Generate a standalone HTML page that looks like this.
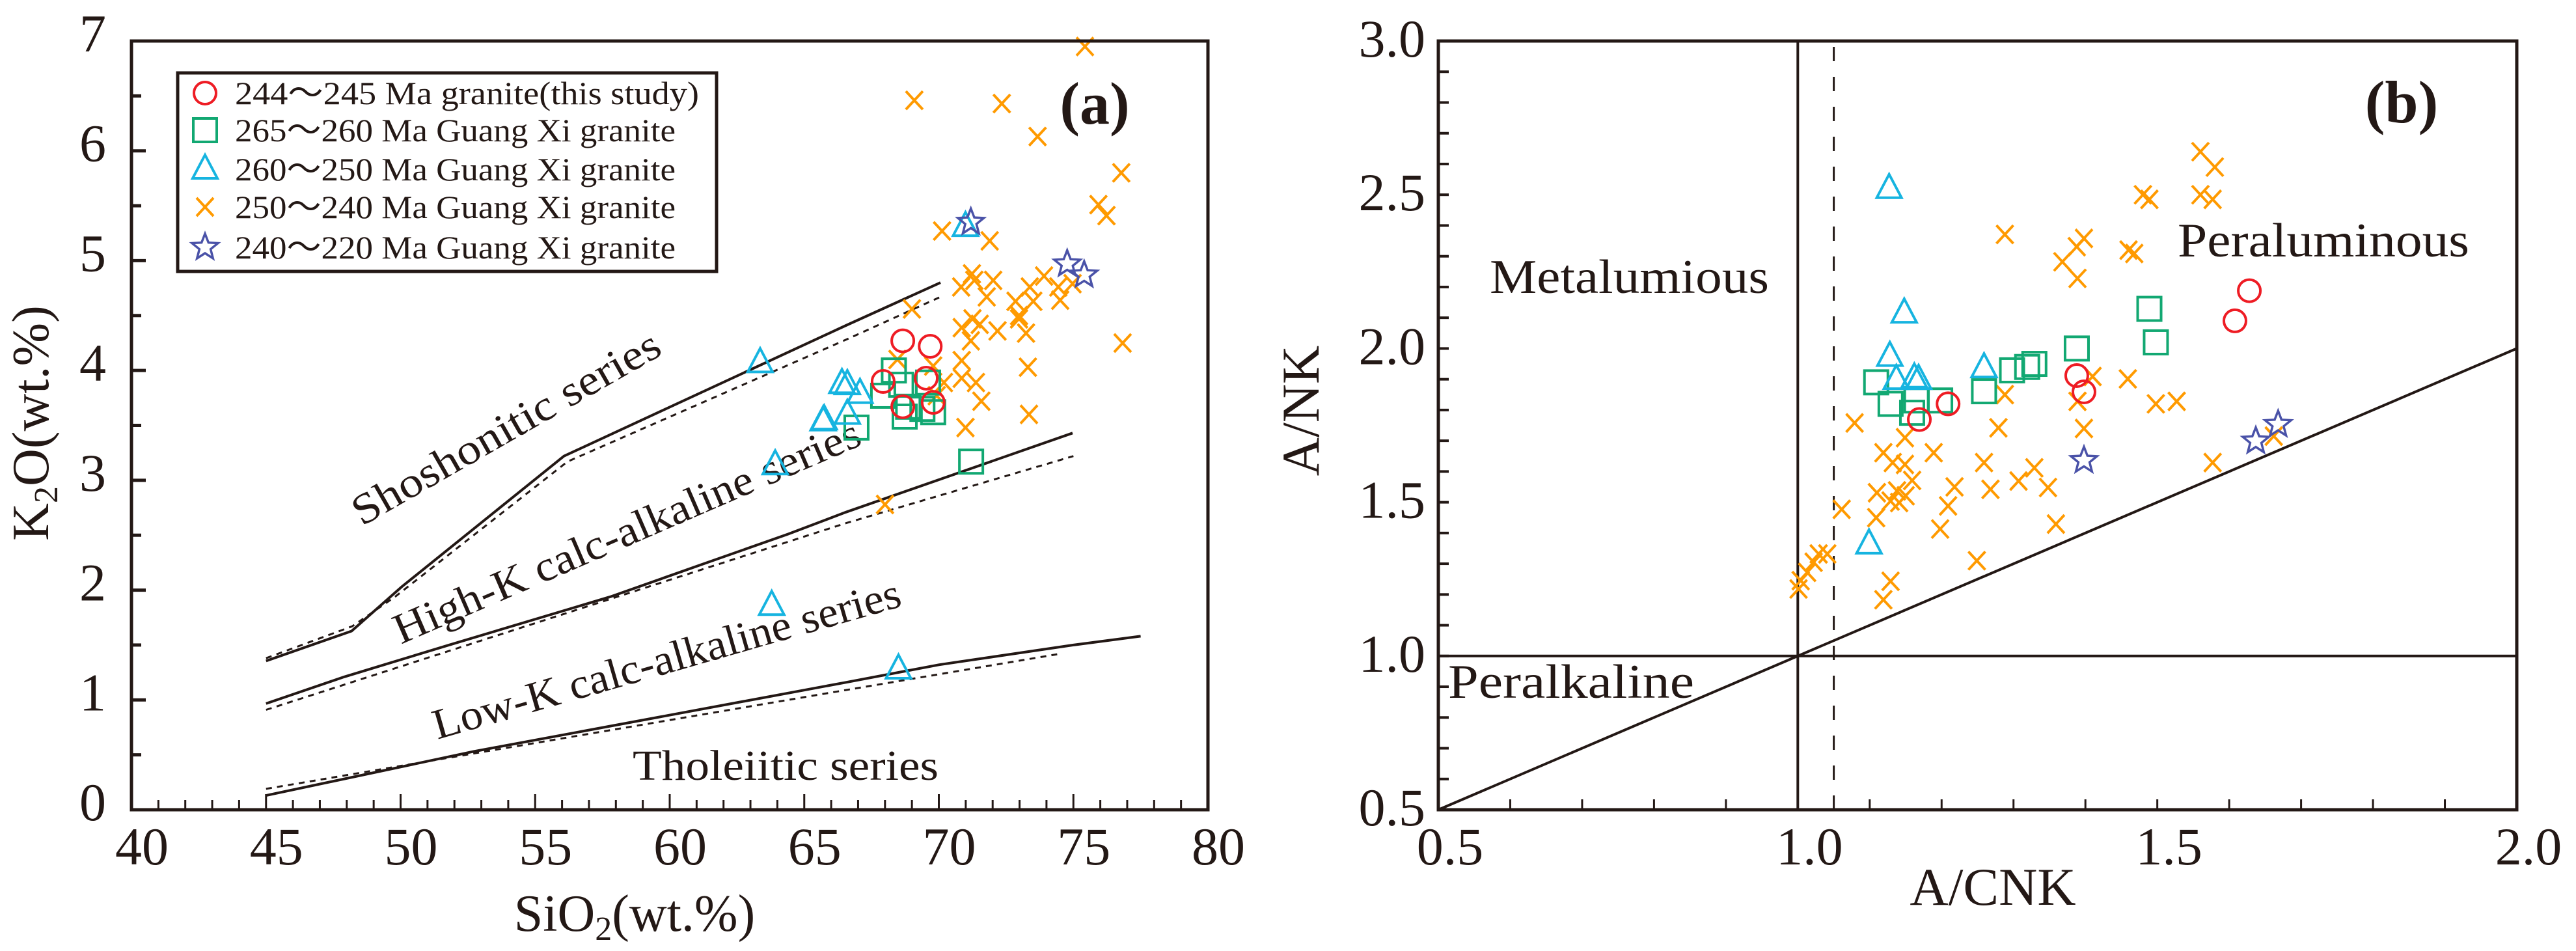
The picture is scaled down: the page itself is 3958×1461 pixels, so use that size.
<!DOCTYPE html>
<html><head><meta charset="utf-8"><style>
html,body{margin:0;padding:0;background:#fff;}
svg{display:block;font-family:"Liberation Serif",serif;}
</style></head><body>
<svg id="fig" width="3958" height="1461" viewBox="0 0 3958 1461" xmlns="http://www.w3.org/2000/svg">
<rect width="3958" height="1461" fill="#fff"/>
<g id="pa"></g>
<g id="pb"></g>
</svg>
<script>
// ---------- Panel (a) data ----------
const aRedX=[68.66,69.68,67.93,69.53,68.66,69.79];
const aRedY=[4.27,4.22,3.90,3.93,3.67,3.71];
const aGreenX=[68.33,67.93,68.6,68.86,68.73,69.39,69.79,66.94,71.2,69.6];
const aGreenY=[4.00,3.77,3.87,3.67,3.58,3.65,3.62,3.48,3.17,3.89];
const aCyanX=[63.36,66.6,67.07,65.74,66.6,70.99,63.92,63.79,68.5,65.7,66.4];
const aCyanY=[4.07,3.87,3.79,3.55,3.60,5.31,3.14,1.86,1.28,3.54,3.88];
const aOrangeX=[75.43,69.09,72.34,73.67,76.78,75.93,76.23,70.12,71.89,71.23,72.02,70.83,71.32,71.78,72.85,73.38,73.91,74.44,74.97,73.51,74.51,72.98,69.0,71.25,70.85,71.52,72.18,73.24,72.98,71.19,76.83,68.46,70.85,69.79,73.31,70.85,71.38,70.19,69.92,71.58,73.35,70.99,68.0];
const aOrangeY=[6.95,6.46,6.43,6.13,5.80,5.51,5.41,5.27,5.18,4.88,4.82,4.76,4.82,4.67,4.63,4.76,4.86,4.76,4.79,4.63,4.64,4.50,4.56,4.47,4.39,4.42,4.36,4.34,4.47,4.27,4.25,4.10,4.09,4.04,4.03,3.93,3.89,3.89,3.77,3.72,3.60,3.48,2.78];
const aStarX=[71.19,74.77,75.40];
const aStarY=[5.35,4.97,4.87];
// boundary lines
const shoSX=[45,48.18,50.04,56.07,66.55,70.06], shoSY=[1.355,1.627,2.03,3.22,4.41,4.80];
const shoDX=[45,48.2,49.8,56.2,66.55,70.06], shoDY=[1.38,1.67,1.94,3.17,4.28,4.67];
const hkSX=[45,47.9,51.8,57.8,61.15,64.4,66.55,74.97], hkSY=[0.967,1.21,1.50,1.94,2.23,2.51,2.71,3.43];
const hkDX=[45,66.55,75], hkDY=[0.91,2.61,3.22];
const lkSX=[45,52.7,66.55,70,75,77.5], lkSY=[0.13,0.53,1.16,1.32,1.5,1.58];
const lkDX=[45,66.55,74.5], lkDY=[0.19,1.09,1.42];
const aXTicks=[40,45,50,55,60,65,70,75,80];
const aYTicks=[0,1,2,3,4,5,6,7];

// ---------- Panel (b) data ----------
const bRedX=[1.628,1.608,1.388,1.398,1.209,1.169];
const bRedY=[2.188,2.090,1.912,1.859,1.820,1.769];
const bGreenX=[1.489,1.498,1.388,1.109,1.298,1.319,1.329,1.259,1.129,1.165,1.198,1.159];
const bGreenY=[2.129,2.020,2.000,1.890,1.929,1.940,1.950,1.861,1.820,1.831,1.831,1.791];
const bCyanX=[1.127,1.148,1.128,1.137,1.162,1.168,1.259,1.099];
const bCyanY=[2.52,2.115,1.974,1.899,1.904,1.899,1.937,1.364];
const bOrangeX=[1.56,1.58,1.56,1.48,1.46,1.489,1.577,1.288,1.398,1.388,1.468,1.368,1.389,1.410,1.459,1.288,1.389,1.498,1.527,1.079,1.279,1.398,1.149,1.119,1.189,1.132,1.149,1.259,1.329,1.159,1.307,1.218,1.348,1.268,1.110,1.138,1.150,1.129,1.141,1.209,1.061,1.109,1.198,1.359,1.249,1.129,1.119,1.577,1.662,1.041,1.029,1.022,1.013,1.004,1.001];
const bOrangeY=[2.64,2.59,2.50,2.50,2.32,2.485,2.485,2.371,2.358,2.331,2.309,2.282,2.228,1.909,1.901,1.850,1.828,1.820,1.828,1.758,1.742,1.740,1.710,1.661,1.661,1.629,1.623,1.629,1.612,1.571,1.569,1.550,1.548,1.542,1.531,1.537,1.521,1.504,1.499,1.488,1.477,1.450,1.413,1.429,1.310,1.243,1.183,1.629,1.715,1.332,1.332,1.305,1.272,1.245,1.218];
const bStarX=[1.398,1.637,1.668];
const bStarY=[1.636,1.699,1.753];
const bXTicks=[0.5,1.0,1.5,2.0];
const bYTicks=[0.5,1.0,1.5,2.0,2.5,3.0];

const NS="http://www.w3.org/2000/svg";
function mk(parent,tag,attrs){const e=document.createElementNS(NS,tag);for(const k in attrs)e.setAttribute(k,attrs[k]);parent.appendChild(e);return e;}
const COL={red:"#ee1c24",green:"#12a872",cyan:"#16b4e0",orange:"#ff9a00",star:"#4a52a8"};

// axis funcs
const axA={x:v=>202+(v-40)*(1856-202)/40, y:v=>1244-v*(1244-63)/7};
const axB={x:v=>2210+(v-0.5)*(3867-2210)/1.5, y:v=>1244-(v-0.5)*(1244-63)/2.5};

function marker(g,type,cx,cy){
  let e;
  if(type==="circle"){e=mk(g,"circle",{cx:cx,cy:cy,r:17,fill:"none",stroke:COL.red,"stroke-width":4});}
  else if(type==="square"){e=mk(g,"rect",{x:cx-18,y:cy-18,width:36,height:36,fill:"none",stroke:COL.green,"stroke-width":4});}
  else if(type==="triangle"){e=mk(g,"polygon",{points:`${cx},${cy-22} ${cx-19},${cy+14} ${cx+19},${cy+14}`,fill:"none",stroke:COL.cyan,"stroke-width":4});}
  else if(type==="x"){e=mk(g,"path",{d:`M${cx-13},${cy-14}L${cx+13},${cy+14}M${cx+13},${cy-14}L${cx-13},${cy+14}`,stroke:COL.orange,"stroke-width":4,fill:"none"});}
  else {let p=[];for(let i=0;i<10;i++){const r=i%2?9:21;const a=-Math.PI/2+i*Math.PI/5;p.push((cx+r*Math.cos(a)).toFixed(1)+","+(cy+r*Math.sin(a)).toFixed(1));}
    e=mk(g,"polygon",{points:p.join(" "),fill:"none",stroke:COL.star,"stroke-width":3.5});}
  return e;
}
function series(g,ax,xs,ys,type,name){
  const sg=mk(g,"g",{});
  
  
  xs.forEach((v,i)=>{const m=marker(sg,type,ax.x(v),ax.y(ys[i]));
    
    });
}
function poly(g,ax,xs,ys,dash,name){
  const pts=xs.map((v,i)=>ax.x(v).toFixed(1)+","+ax.y(ys[i]).toFixed(1)).join(" ");
  const a={points:pts,fill:"none",stroke:"#231815","stroke-width":dash?3:4};
  if(dash)a["stroke-dasharray"]="9 8";
  const e=mk(g,"polyline",a);
  
  
}
function text(g,x,y,s,size,attrs,name){
  const t=mk(g,"text",Object.assign({x:x,y:y,"font-size":size,fill:"#231815"},attrs||{}));
  t.textContent=s;
  
  
  return t;
}

// ---------- Panel A ----------
const A=document.getElementById("pa");
// ticks
for(let v=40;v<=80;v++){const X=axA.x(v);const L=v%5===0?24:15;
  const t=mk(A,"line",{x1:X,y1:1244,x2:X,y2:1244-L,stroke:"#231815","stroke-width":3});
  }
for(let v=0;v<=7;v+=0.5){const Y=axA.y(v);const L=Number.isInteger(v)?22:15;
  const t=mk(A,"line",{x1:202,y1:Y,x2:202+L,y2:Y,stroke:"#231815","stroke-width":5});
  }
aXTicks.forEach(v=>text(A,axA.x(v)+16,1328,String(v),82,{"text-anchor":"middle"},"x-tick-label"));
aYTicks.forEach(v=>text(A,163,axA.y(v)+16,String(v),82,{"text-anchor":"end"},"y-tick-label"));
// lines
poly(A,axA,shoSX,shoSY,false,"shoshonitic-boundary");poly(A,axA,shoDX,shoDY,true,"shoshonitic-boundary-dashed");
poly(A,axA,hkSX,hkSY,false,"high-k-boundary");poly(A,axA,hkDX,hkDY,true,"high-k-boundary-dashed");
poly(A,axA,lkSX,lkSY,false,"low-k-boundary");poly(A,axA,lkDX,lkDY,true,"low-k-boundary-dashed");
// series labels
text(A,556,809,"Shoshonitic series",66,{transform:"rotate(-29.8 556 809)",textLength:535,lengthAdjust:"spacingAndGlyphs"},"shoshonitic-label");
text(A,616,990,"High-K calc-alkaline series",66,{transform:"rotate(-23.4 616 990)",textLength:775,lengthAdjust:"spacingAndGlyphs"},"high-k-label");
text(A,672,1136,"Low-K calc-alkaline series",66,{transform:"rotate(-16 672 1136)",textLength:745,lengthAdjust:"spacingAndGlyphs"},"low-k-label");
text(A,972,1198,"Tholeiitic series",66,{textLength:470,lengthAdjust:"spacingAndGlyphs"},"tholeiitic-label");
// data
series(A,axA,aOrangeX,aOrangeY,"x","a-250-240ma");
series(A,axA,aGreenX,aGreenY,"square","a-265-260ma");
series(A,axA,aCyanX,aCyanY,"triangle","a-260-250ma");
series(A,axA,aRedX,aRedY,"circle","a-244-245ma");
series(A,axA,aStarX,aStarY,"star","a-240-220ma");
// frame
const fa=mk(A,"rect",{x:202,y:63,width:1654,height:1181,fill:"none",stroke:"#231815","stroke-width":5});

// legend
const LG=mk(A,"g",{});

const lb=mk(LG,"rect",{x:273,y:112,width:828,height:305,fill:"#fff",stroke:"#231815","stroke-width":5});

const legT=["244～245 Ma granite(this study)","265～260 Ma Guang Xi granite","260～250 Ma Guang Xi granite","250～240 Ma Guang Xi granite","240～220 Ma Guang Xi granite"];
const legM=["circle","square","triangle","x","star"];
const legY=[143,200,260,318,380];
const legW=[713,677,677,677,677];
legT.forEach((s,i)=>{const m=marker(LG,legM[i],315,legY[i]);
  
  text(LG,361,legY[i]+17,s,50,{textLength:legW[i],lengthAdjust:"spacingAndGlyphs"},"legend-entry");});
text(A,1682,190,"(a)",92,{"text-anchor":"middle","font-weight":"bold"},"panel-a-label");
// axis titles
const xt=text(A,975,1430,"",80,{"text-anchor":"middle"},"x-axis-title-a");
xt.innerHTML='SiO<tspan font-size="52" dy="14">2</tspan><tspan dy="-14">(wt.%)</tspan>';
const yt=text(A,0,0,"",80,{"text-anchor":"middle",transform:"translate(74 650) rotate(-90)"},"y-axis-title-a");
yt.innerHTML='K<tspan font-size="52" dy="14">2</tspan><tspan dy="-14">O(wt.%)</tspan>';

// ---------- Panel B ----------
const B=document.getElementById("pb");
for(let i=0;i<=15;i++){const v=0.5+i*0.1;const X=axB.x(v);
  const t=mk(B,"line",{x1:X,y1:1244,x2:X,y2:1244-16,stroke:"#231815","stroke-width":3});
  }
for(let i=0;i<=25;i++){const v=0.5+i*0.1;const Y=axB.y(v);
  const t=mk(B,"line",{x1:2210,y1:Y,x2:2226,y2:Y,stroke:"#231815","stroke-width":4});
  }
bXTicks.forEach(v=>text(B,axB.x(v)+18,1328,v.toFixed(1),82,{"text-anchor":"middle"},"x-tick-label"));
bYTicks.forEach(v=>text(B,2190,axB.y(v)+24,v.toFixed(1),82,{"text-anchor":"end"},"y-tick-label"));
// reference lines
poly(B,axB,[1.0,1.0],[0.5,3.0],false,"acnk-1-line");
poly(B,axB,[1.05,1.05],[0.5,3.0],false,"acnk-1.05-dashed-line");
B.lastChild.setAttribute("stroke-dasharray","22 24");B.lastChild.setAttribute("stroke-width","3");
poly(B,axB,[0.5,2.0],[1.0,1.0],false,"ank-1-line");
poly(B,axB,[0.5,2.0],[0.5,2.0],false,"diagonal-line");
text(B,2289,450,"Metalumious",74,{textLength:429,lengthAdjust:"spacingAndGlyphs"},"metaluminous-label");
text(B,3346,394,"Peraluminous",74,{textLength:448,lengthAdjust:"spacingAndGlyphs"},"peraluminous-label");
text(B,2225,1072,"Peralkaline",74,{textLength:378,lengthAdjust:"spacingAndGlyphs"},"peralkaline-label");
series(B,axB,bOrangeX,bOrangeY,"x","b-250-240ma");
series(B,axB,bGreenX,bGreenY,"square","b-265-260ma");
series(B,axB,bCyanX,bCyanY,"triangle","b-260-250ma");
series(B,axB,bRedX,bRedY,"circle","b-244-245ma");
series(B,axB,bStarX,bStarY,"star","b-240-220ma");
const fb=mk(B,"rect",{x:2210,y:63,width:1657,height:1181,fill:"none",stroke:"#231815","stroke-width":5});

text(B,3690,188,"(b)",92,{"text-anchor":"middle","font-weight":"bold"},"panel-b-label");
text(B,3062,1390,"A/CNK",82,{"text-anchor":"middle"},"x-axis-title-b");
text(B,0,0,"A/NK",82,{"text-anchor":"middle",transform:"translate(2026 631) rotate(-90)"},"y-axis-title-b");
</script>
</body></html>
